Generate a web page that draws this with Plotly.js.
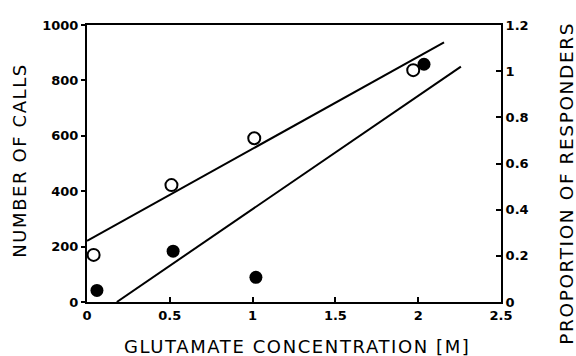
<!DOCTYPE html>
<html><head><meta charset="utf-8">
<script src="https://cdn.plot.ly/plotly-3.0.1.min.js"></script>
<style>html,body{margin:0;padding:0;background:#fff}
.annotation-text{letter-spacing:1.6px}</style>
</head><body><div id="chart" style="width:576px;height:356px"></div>
<script>
// Number of calls (open circles, left axis)
const callsConc = [0.04, 0.51, 1.01, 1.97];
const callsValues = [170, 422, 591, 837];
// Proportion of responders (filled circles, right axis)
const respConc = [0.06, 0.52, 1.02, 2.035];
const respValues = [0.05, 0.22, 0.107, 1.03];
// Fitted lines
const callsFitX = [0, 2.156];
const callsFitY = [221, 937];
const respFitX = [0.18, 2.258];
const respFitY = [0, 1.02];

const xTicks = [0, 0.5, 1, 1.5, 2, 2.5];
const xTickText = ['0', '0.5', '1', '1.5', '2', '2.5'];
const yTicks = [0, 200, 400, 600, 800, 1000];
const y2Ticks = [0, 0.2, 0.4, 0.6, 0.8, 1, 1.2];
const y2TickText = ['0', '0.2', '0.4', '0.6', '0.8', '1', '1.2'];

const xTitle = 'GLUTAMATE CONCENTRATION [M]';
const yTitle = 'NUMBER OF CALLS';
const y2Title = 'PROPORTION OF RESPONDERS';

const tickFont = {family: 'DejaVu Sans', size: 13, color: '#000', weight: 'bold'};
const titleFont = {family: 'DejaVu Sans', size: 18, color: '#000'};

const data = [
  {x: callsFitX, y: callsFitY, mode: 'lines', line: {color: '#000', width: 2}, yaxis: 'y', hoverinfo: 'skip'},
  {x: respFitX, y: respFitY, mode: 'lines', line: {color: '#000', width: 2}, yaxis: 'y2', hoverinfo: 'skip'},
  {x: callsConc, y: callsValues, mode: 'markers', yaxis: 'y',
   marker: {symbol: 'circle-open', size: 12, color: '#000', line: {width: 2, color: '#000'}}},
  {x: respConc, y: respValues, mode: 'markers', yaxis: 'y2',
   marker: {symbol: 'circle', size: 13, color: '#000'}}
];

const layout = {
  width: 576, height: 356,
  margin: {l: 87, r: 75, t: 25, b: 54},
  showlegend: false,
  paper_bgcolor: '#fff', plot_bgcolor: '#fff',
  xaxis: {
    range: [0, 2.5], tickvals: xTicks, ticktext: xTickText,
    showgrid: false, zeroline: false, showline: true, linecolor: '#000', linewidth: 2,
    mirror: true, ticks: 'inside', ticklen: 5, tickwidth: 2, tickcolor: '#000',
    tickfont: tickFont
  },
  yaxis: {
    range: [0, 1000], tickvals: yTicks,
    showgrid: false, zeroline: false, showline: true, linecolor: '#000', linewidth: 2,
    ticks: 'outside', ticklen: 4, tickwidth: 2, tickcolor: '#000',
    tickfont: tickFont
  },
  yaxis2: {
    range: [0, 1.2], tickvals: y2Ticks, ticktext: y2TickText,
    overlaying: 'y', side: 'right',
    showgrid: false, zeroline: false, showline: true, linecolor: '#000', linewidth: 2,
    ticks: 'inside', ticklen: 5, tickwidth: 2, tickcolor: '#000',
    tickfont: tickFont
  },
  annotations: [
    {text: xTitle, xref: 'paper', yref: 'paper', x: 0.507, xanchor: 'center', y: -0.159, yanchor: 'middle', showarrow: false, font: titleFont},
    {text: yTitle, xref: 'paper', yref: 'paper', x: -0.162, xanchor: 'center', y: 0.513, yanchor: 'middle', textangle: -90, showarrow: false, font: titleFont},
    {text: y2Title, xref: 'paper', yref: 'paper', x: 1.159, xanchor: 'center', y: 0.43, yanchor: 'middle', textangle: -90, showarrow: false, font: {family: 'DejaVu Sans', size: 18.5, color: '#000'}}
  ]
};

Plotly.newPlot('chart', data, layout, {displayModeBar: false, staticPlot: true});
</script></body></html>
